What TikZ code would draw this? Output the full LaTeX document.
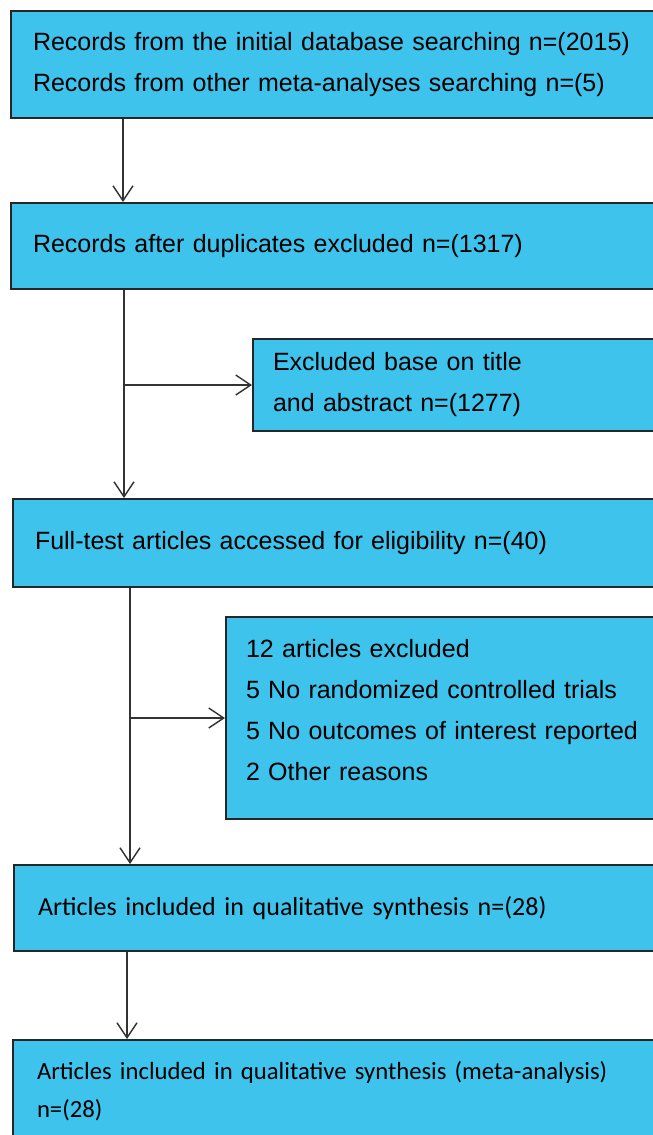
\documentclass[tikz,border=0pt]{standalone}
\usepackage{fontspec}
\setmainfont{Liberation Sans}
\newfontfamily\calibrifont{Carlito}
\usetikzlibrary{positioning,arrows.meta}

\definecolor{boxblue}{RGB}{62,195,236}

\begin{document}
\begin{tikzpicture}[
	x=1pt, y=1pt,
	flowbox/.style={draw=black!85, line width=2pt, fill=boxblue, rectangle,
		text width=680pt, align=left, inner xsep=22pt, inner ysep=0pt,
		font=\fontsize{25}{41}\selectfont},
	sidebox/.style={flowbox, text width=440pt, inner xsep=20pt},
	calbox/.style={flowbox, inner xsep=24pt, font=\calibrifont\fontsize{26}{38}\selectfont},
	arr/.style={line width=1.4pt, draw=black!80, -{Straight Barb[length=15pt,width=20pt,line width=1.4pt]}}
	]
	\useasboundingbox (0,0) rectangle (653,-1135);
	\clip (0,0) rectangle (653,-1135);

	\node[flowbox, minimum height=107pt, anchor=north west] (rec) at (10,-10)
		{Records from the initial database searching n=(2015)\\
		 Records from other meta-analyses searching n=(5)};
	\node[flowbox, minimum height=86pt, below right=83pt and 0pt of rec.south west] (dup)
		{Records after duplicates excluded n=(1317)};
	\node[sidebox, minimum height=92pt, below right=48pt and 242pt of dup.south west] (exta)
		{Excluded base on title\\ and abstract n=(1277)};
	\node[flowbox, minimum height=88pt, below right=208pt and 2pt of dup.south west] (full)
		{Full-test articles accessed for eligibility n=(40)};
	\node[sidebox, minimum height=202pt, text height=18pt, text depth=140pt,
		below right=28pt and 213pt of full.south west] (extb)
		{12 articles excluded\\
		 5 No randomized controlled trials\\
		 5 No outcomes of interest reported\\
		 2 Other reasons};
	\node[calbox, minimum height=86pt, below right=276pt and 1pt of full.south west] (qual)
		{Articles included in qualitative synthesis n=(28)};
	\node[calbox, minimum height=102pt, font=\calibrifont\fontsize{24.7}{38}\selectfont,
		below right=87pt and -1pt of qual.south west] (meta)
		{Articles included in qualitative synthesis (meta-analysis)\\ n=(28)};

	% trunk lines
	\coordinate (t1) at ([xshift=113pt]rec.south west);
	\coordinate (t2) at ([xshift=114pt]dup.south west);
	\coordinate (t3) at ([xshift=118pt]full.south west);
	\coordinate (t4) at ([xshift=114pt]qual.south west);

	\draw[arr] (t1) -- (t1 |- dup.north);
	\draw[arr] (t2) -- (t2 |- full.north);
	\draw[arr] (t2 |- exta.west) -- (exta.west);
	\draw[arr] (t3) -- (t3 |- qual.north);
	\draw[arr] (t3 |- extb.west) -- (extb.west);
	\draw[arr] (t4) -- (t4 |- meta.north);

\end{tikzpicture}
\end{document}
